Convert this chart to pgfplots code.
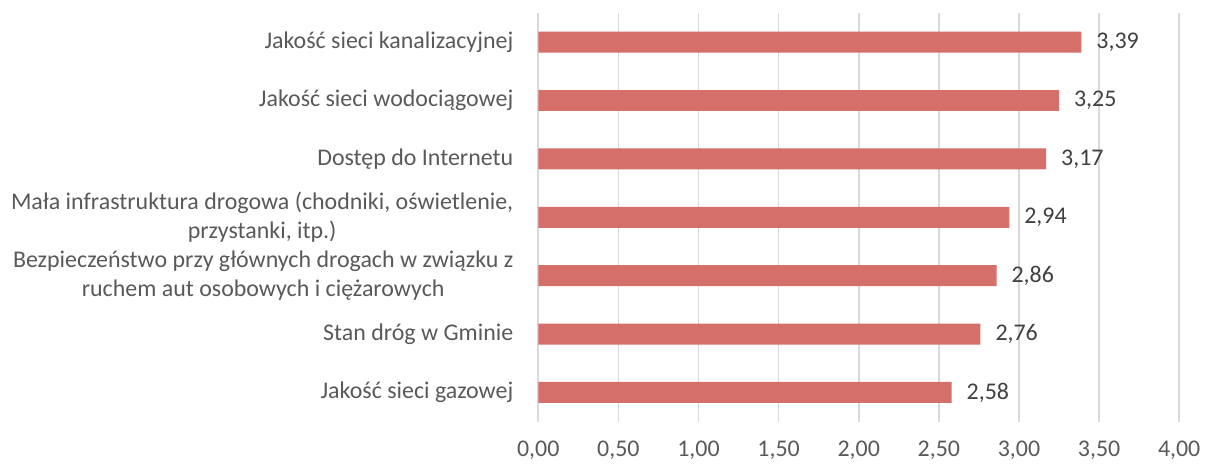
\documentclass[border=0pt]{standalone}
\usepackage{fontspec}
\setmainfont{Carlito}
\usepackage{pgfplots}
\pgfplotsset{compat=1.18}
\definecolor{barred}{HTML}{D46F6A}
\definecolor{gridgray}{HTML}{D9D9D9}
\definecolor{txtgray}{HTML}{595959}
\definecolor{lblgray}{HTML}{404040}

\begin{document}
\begin{tikzpicture}
\begin{axis}[
  scale only axis,
  width=321.5pt, height=205pt,
  xbar, bar width=10.5pt,
  xmin=0, xmax=4, ymin=-0.5, ymax=6.5,
  xtick={0,0.5,...,4},
  ytick={0,...,6},
  yticklabels={
    {Jakość sieci gazowej},
    {Stan dróg w Gminie},
    {Bezpieczeństwo przy głównych drogach w związku z\\ruchem aut osobowych i ciężarowych},
    {Mała infrastruktura drogowa (chodniki, oświetlenie,\\przystanki, itp.)},
    {Dostęp do Internetu},
    {Jakość sieci wodociągowej},
    {Jakość sieci kanalizacyjnej}},
  yticklabel style={align=center, font=\fontsize{12}{14.5}\selectfont, text=txtgray, xshift=-9pt},
  xticklabel style={font=\fontsize{12}{14.5}\selectfont, text=txtgray, yshift=-6pt},
  /pgf/number format/.cd, use comma, fixed, fixed zerofill, precision=2, assume math mode=true,
  /pgfplots/.cd,
  major tick length=0pt,
  axis line style={draw=none},
  xmajorgrids, grid style={gridgray, line width=0.8pt},
  point meta=x,
  nodes near coords,
  nodes near coords style={font=\fontsize{12}{14.5}\selectfont, text=lblgray, anchor=west, xshift=4pt},
  clip=false,
]
\addplot[fill=barred, draw=none] coordinates {
  (2.58,0) (2.76,1) (2.86,2) (2.94,3) (3.17,4) (3.25,5) (3.39,6)};
\path ([yshift=6.5pt]rel axis cs:0,1) -- (rel axis cs:0,1);
\path ([xshift=-270pt]rel axis cs:0,0) -- (rel axis cs:0,0);
\path ([xshift=8pt]rel axis cs:1,0) -- (rel axis cs:1,0);
\end{axis}
\end{tikzpicture}
\end{document}
